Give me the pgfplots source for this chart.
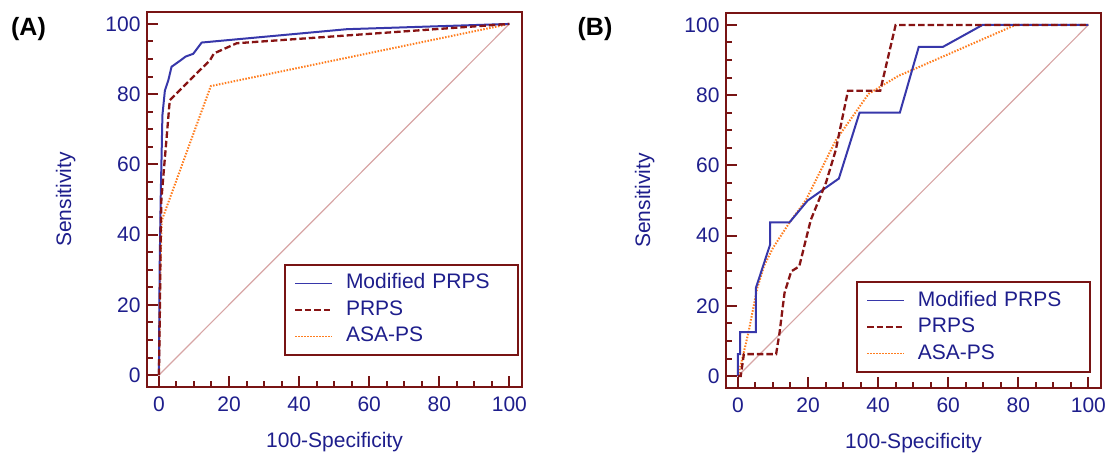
\documentclass[border=0pt]{standalone}
\usepackage{fontspec}
\setmainfont{Liberation Sans}
\usepackage{pgfplots}
\pgfplotsset{compat=1.18}

\definecolor{frame}{RGB}{120,20,20}
\definecolor{navy}{RGB}{30,30,140}
\definecolor{mprps}{RGB}{55,55,170}
\definecolor{prps}{RGB}{135,20,20}
\definecolor{asa}{RGB}{255,125,30}
\definecolor{diag}{RGB}{215,165,165}

\pgfplotsset{
  rocax/.style={
    scale only axis, width=375bp, height=375bp,
    xmin=-3.4, xmax=103.6, ymin=-3.4, ymax=103.4,
    xtick={0,20,...,100}, ytick={0,20,...,100},
    minor tick num=3,
    tick align=inside, tick pos=left,
    major tick length=11bp, minor tick length=6bp,
    axis line style={frame, line width=2.5bp},
    tick style={frame, line width=2bp},
    font=\fontsize{21bp}{24bp}\selectfont,
    tick label style={text=navy},
    xticklabel style={yshift=-6bp},
    yticklabel style={xshift=-3bp},
    label style={text=navy},
    /pgf/number format/assume math mode=true,
    xlabel={100-Specificity}, ylabel={Sensitivity},
    xlabel style={at={(axis description cs:0.5,-0.147)}, anchor=center},
    ylabel style={at={(axis description cs:-0.217,0.5)}, anchor=center},
    legend style={draw=frame, line width=2bp, fill=white, text=navy,
      inner xsep=10bp, inner ysep=9bp, row sep=7.5bp, column sep=13bp,
      nodes={inner sep=0pt, text height=15bp, text depth=4bp, text width=162bp}},
    legend cell align=left,
    legend image code/.code={\draw[#1] (0bp,0bp) -- (37bp,0bp);},
    legend image post style={line width=1.3bp},
  },
  mp/.style={mprps, line width=2bp},
  pr/.style={prps, line width=2.3bp, dash pattern=on 6.5bp off 3bp},
  as/.style={asa, line width=2bp, dash pattern=on 1.5bp off 1.5bp},
  dg/.style={diag, line width=1.2bp},
}

\begin{document}
\begin{tikzpicture}
\path[use as bounding box] (0,0) rectangle (1110bp,454bp);

% (A)
\begin{axis}[rocax, at={(147bp,67bp)}, anchor=south west,
  legend style={at={(axis description cs:0.992,0.083)}, anchor=south east}]
\addplot[dg, forget plot] coordinates {(0,0) (100,100)};
\addplot[as, forget plot] coordinates {
  (0,0) (0.4,30) (0.8,44) (14.8,82.3) (100,100)};
\addplot[mp] coordinates {
  (0,0) (0.2,30) (0.5,50) (1,74) (1.7,81) (2.7,84) (3.6,87.8)
  (6,89.5) (7.6,90.7) (9.8,91.5) (12.2,94.7) (53.6,98.5) (100,100)};
\addlegendentry{Modified PRPS}
\addplot[pr] coordinates {
  (0,0) (0.3,20) (0.5,40) (0.7,50) (3.1,78.3) (14.6,89.7)
  (15.7,91.6) (22.2,94.5) (100,100)};
\addlegendentry{PRPS}
\addlegendimage{as}
\addlegendentry{ASA-PS}
\end{axis}

% (B)
\begin{axis}[rocax, at={(726bp,66bp)}, anchor=south west,
  legend style={at={(axis description cs:0.973,0.04)}, anchor=south east}]
\addplot[dg, forget plot] coordinates {(0,0) (100,100)};
\addplot[as, forget plot] coordinates {
  (0,0) (1.5,6) (3,12.4) (5.5,25) (7.5,31.5) (10,36.5) (14.7,43.7)
  (19.4,50.1) (27.9,67.1) (37.3,80.4) (45.8,85.5) (51.4,87.9)
  (79.2,100) (100,100)};
\addplot[mp] coordinates {
  (0,0) (0,6.25) (0.6,6.25) (0.6,12.5) (5.1,12.5) (5.1,25) (9.2,37.5)
  (9.2,43.75) (14.7,43.75) (19.9,50) (28.8,56.25) (34.7,75) (46.2,75)
  (51.6,93.75) (58.5,93.75) (69.8,100) (100,100)};
\addlegendentry{Modified PRPS}
\addplot[pr] coordinates {
  (0,0) (0.8,0) (1.7,6.25) (10.9,6.25) (11.9,12.5) (13.3,23.7)
  (15.2,29.8) (17.5,31.25) (20.8,44.5) (25.1,55) (27.9,64.3)
  (31.4,81.25) (40.6,81.25) (45,100) (100,100)};
\addlegendentry{PRPS}
\addlegendimage{as}
\addlegendentry{ASA-PS}
\end{axis}

\node[font=\fontsize{25bp}{30bp}\selectfont\bfseries] at (28.5bp,425bp) {(A)};
\node[font=\fontsize{25bp}{30bp}\selectfont\bfseries] at (595bp,425bp) {(B)};
\end{tikzpicture}
\end{document}
